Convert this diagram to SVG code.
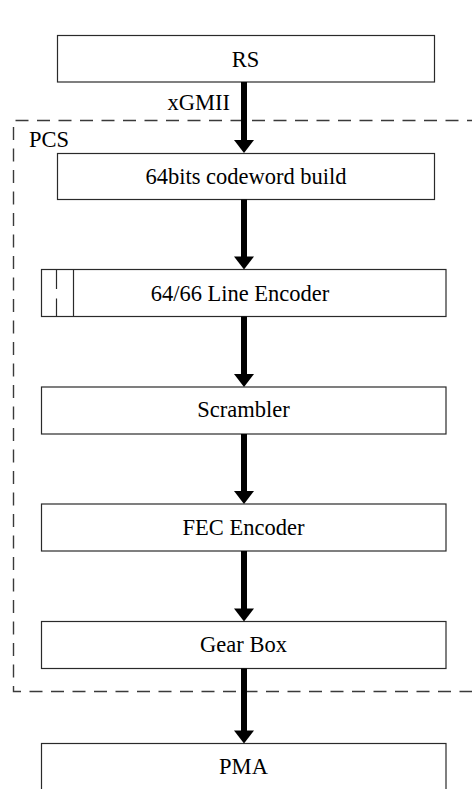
<svg xmlns="http://www.w3.org/2000/svg" width="472" height="789" viewBox="0 0 472 789">
  <style>
    .box { fill: #ffffff; stroke: #2a2a2a; stroke-width: 1.2; }
    .lbl { font-family: "Liberation Serif", "Times New Roman", serif; font-size: 22.5px; fill: #000; }
    .mid { text-anchor: middle; }
    .conn { stroke: #000; stroke-width: 6; fill: none; }
    .head { fill: #000; }
    .pcs { fill: none; stroke: #3a3a3a; stroke-width: 1.4; stroke-dasharray: 13 8.5; }
  </style>
  <rect width="472" height="789" fill="#ffffff"/>

  <g id="pcs-group">
    <path class="pcs" d="M 480 120.5 H 13.5 V 691.5 H 480"/>
    <text class="lbl" x="29" y="146.5">PCS</text>
  </g>

  <g id="rs">
    <rect class="box" x="57.5" y="35.5" width="377" height="46.5"/>
    <text class="lbl mid" x="245.5" y="66.5">RS</text>
  </g>

  <g id="codeword-build">
    <rect class="box" x="57.5" y="153.5" width="377" height="46"/>
    <text class="lbl mid" x="246" y="183.5">64bits codeword build</text>
  </g>

  <g id="line-encoder">
    <rect class="box" x="41.5" y="269.5" width="404.5" height="47"/>
    <line class="box" x1="56.5" y1="269.5" x2="56.5" y2="289"/>
    <line class="box" x1="56.5" y1="298.5" x2="56.5" y2="316.5"/>
    <line class="box" x1="73.5" y1="269.5" x2="73.5" y2="316.5"/>
    <text class="lbl mid" x="240" y="300.5">64/66 Line Encoder</text>
  </g>

  <g id="scrambler">
    <rect class="box" x="41.5" y="387" width="404.5" height="47"/>
    <text class="lbl mid" x="243.5" y="417">Scrambler</text>
  </g>

  <g id="fec-encoder">
    <rect class="box" x="41.5" y="504" width="404.5" height="47"/>
    <text class="lbl mid" x="243.5" y="535">FEC Encoder</text>
  </g>

  <g id="gear-box">
    <rect class="box" x="41.5" y="621.5" width="404.5" height="47"/>
    <text class="lbl mid" x="243.5" y="652">Gear Box</text>
  </g>

  <g id="pma">
    <rect class="box" x="41.5" y="743.5" width="404.5" height="60"/>
    <text class="lbl mid" x="243.5" y="774">PMA</text>
  </g>

  <g id="connectors">
    <line class="conn" x1="244" y1="82" x2="244" y2="142"/>
    <polygon class="head" points="234,140 254,140 244,153"/>
    <text class="lbl" x="230" y="109.5" text-anchor="end">xGMII</text>

    <line class="conn" x1="244" y1="199.5" x2="244" y2="258"/>
    <polygon class="head" points="234,256.5 254,256.5 244,269.5"/>

    <line class="conn" x1="244" y1="316.5" x2="244" y2="376"/>
    <polygon class="head" points="234,374 254,374 244,387"/>

    <line class="conn" x1="244" y1="434" x2="244" y2="493"/>
    <polygon class="head" points="234,491 254,491 244,504"/>

    <line class="conn" x1="244" y1="551" x2="244" y2="610"/>
    <polygon class="head" points="234,608.5 254,608.5 244,621.5"/>

    <line class="conn" x1="244" y1="668.5" x2="244" y2="732"/>
    <polygon class="head" points="234,730.5 254,730.5 244,743.5"/>
  </g>
</svg>
